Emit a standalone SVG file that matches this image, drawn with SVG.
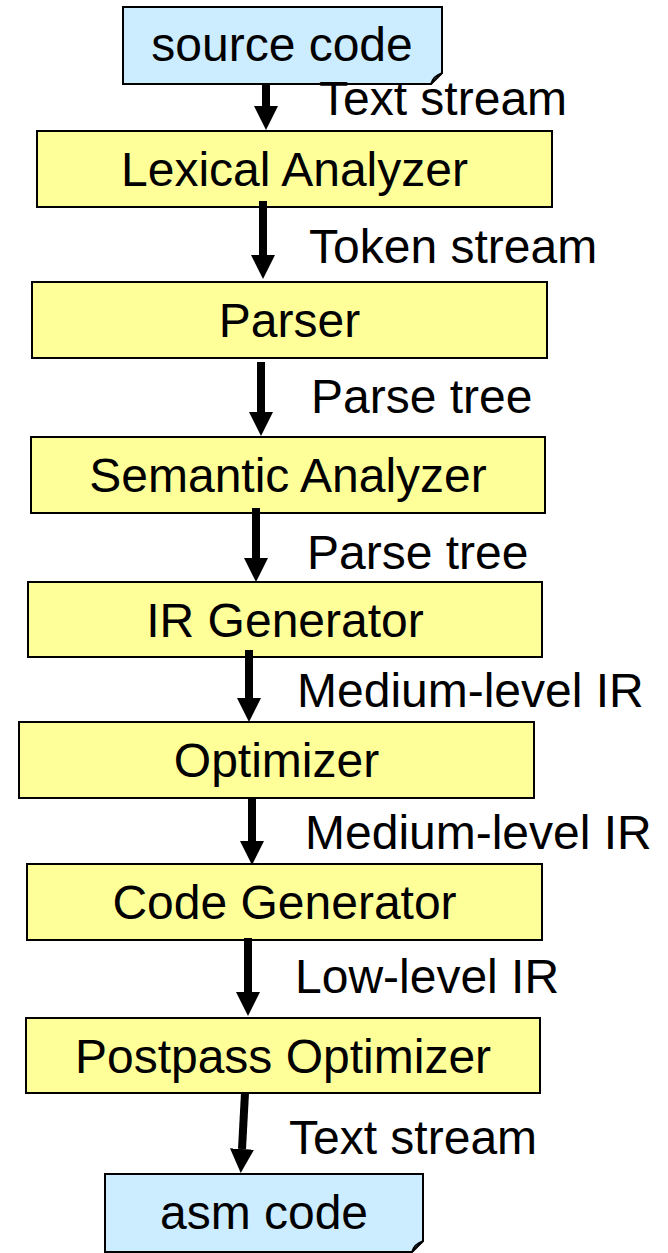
<svg xmlns="http://www.w3.org/2000/svg" width="668" height="1253" viewBox="0 0 668 1253">
  <style>
    .stage { fill: #FFFF99; stroke: #000; stroke-width: 2; }
    .doc { fill: #CCECFF; stroke: #000; stroke-width: 2; }
    .fold { fill: #9FC8E0; stroke: #000; stroke-width: 1.5; }
    .t { font-family: "Liberation Sans", Arial, sans-serif; font-size: 48px; fill: #000; }
    .c { text-anchor: middle; }
    .flow { stroke: #000; stroke-width: 8; fill: none; marker-end: url(#head); }
  </style>
  <defs>
    <marker id="head" markerUnits="userSpaceOnUse" viewBox="0 0 24 24" refX="0" refY="12" markerWidth="24" markerHeight="24" orient="auto">
      <path d="M0,0 L24,12 L0,24 Z" fill="#000"/>
    </marker>
  </defs>

  <g id="source-code">
    <path class="doc" d="M123,7 H442 V73 L431,84 H123 Z"/>
    <path class="fold" d="M431,84 Q433,76 442,73 Q436,78 431,84 Z"/>
    <text class="t c" x="282" y="61">source code</text>
  </g>

  <g id="lexical-analyzer">
    <rect class="stage" x="37" y="131" width="515" height="76"/>
    <text class="t c" x="294.5" y="186">Lexical Analyzer</text>
  </g>

  <g id="parser">
    <rect class="stage" x="32" y="282" width="515" height="76"/>
    <text class="t c" x="289.5" y="337">Parser</text>
  </g>

  <g id="semantic-analyzer">
    <rect class="stage" x="31" y="437" width="514" height="76"/>
    <text class="t c" x="288" y="492">Semantic Analyzer</text>
  </g>

  <g id="ir-generator">
    <rect class="stage" x="28" y="582" width="514" height="75"/>
    <text class="t c" x="285" y="637">IR Generator</text>
  </g>

  <g id="optimizer">
    <rect class="stage" x="19" y="722" width="515" height="76"/>
    <text class="t c" x="276.5" y="777">Optimizer</text>
  </g>

  <g id="code-generator">
    <rect class="stage" x="27" y="864" width="515" height="76"/>
    <text class="t c" x="284.5" y="919">Code Generator</text>
  </g>

  <g id="postpass-optimizer">
    <rect class="stage" x="26" y="1018" width="514" height="75"/>
    <text class="t c" x="283" y="1073">Postpass Optimizer</text>
  </g>

  <g id="asm-code">
    <path class="doc" d="M105,1174 H423 V1241 L412,1252 H105 Z"/>
    <path class="fold" d="M412,1252 Q414,1244 423,1241 Q417,1246 412,1252 Z"/>
    <text class="t c" x="264" y="1229">asm code</text>
  </g>

  <g id="connectors">
    <line class="flow" x1="266" y1="85" x2="266" y2="106"/>
    <line class="flow" x1="263" y1="201" x2="263" y2="255"/>
    <line class="flow" x1="261" y1="362" x2="261" y2="412"/>
    <line class="flow" x1="256" y1="508" x2="256" y2="558"/>
    <line class="flow" x1="249" y1="650" x2="249" y2="698"/>
    <line class="flow" x1="252" y1="797" x2="252" y2="841"/>
    <line class="flow" x1="248" y1="938" x2="248" y2="992"/>
    <line class="flow" x1="245" y1="1093" x2="242" y2="1149"/>
  </g>

  <g id="labels">
    <text class="t" x="319" y="115">Text stream</text>
    <text class="t" x="309" y="263">Token stream</text>
    <text class="t" x="311" y="413">Parse tree</text>
    <text class="t" x="307" y="569">Parse tree</text>
    <text class="t" x="297" y="707">Medium-level IR</text>
    <text class="t" x="305" y="849">Medium-level IR</text>
    <text class="t" x="295" y="993">Low-level IR</text>
    <text class="t" x="289" y="1154">Text stream</text>
  </g>
</svg>
